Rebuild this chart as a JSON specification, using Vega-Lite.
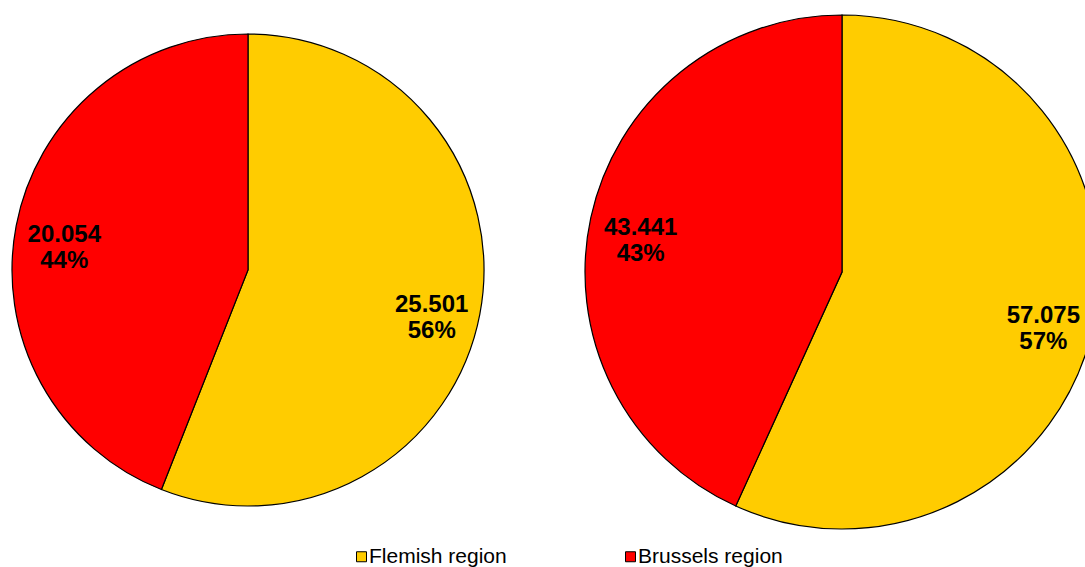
{
  "$schema": "https://vega.github.io/schema/vega-lite/v6.json",
  "width": 1085,
  "height": 567,
  "autosize": {"type": "fit", "contains": "padding"},
  "padding": 0,
  "background": "white",
  "config": {"view": {"stroke": null}},
  "data": {
    "values": [
      {"pie": "Pie 1", "region": "Flemish region", "value": 25501, "label": "25.501\n56%"},
      {"pie": "Pie 1", "region": "Brussels region", "value": 20054, "label": "20.054\n44%"},
      {"pie": "Pie 2", "region": "Flemish region", "value": 57075, "label": "57.075\n57%"},
      {"pie": "Pie 2", "region": "Brussels region", "value": 43441, "label": "43.441\n43%"}
    ]
  },
  "encoding": {
    "x": {"field": "pie", "type": "nominal", "scale": {"type": "point", "domain": ["Pie 1", "Pie 2"], "range": [248, 842], "padding": 0}, "axis": null},
    "y": {"field": "pie", "type": "nominal", "scale": {"type": "point", "domain": ["Pie 1", "Pie 2"], "range": [270, 272], "padding": 0}, "axis": null},
    "theta": {"field": "value", "type": "quantitative", "stack": "normalize"},
    "order": {"field": "region", "sort": "descending"},
    "color": {
      "field": "region",
      "type": "nominal",
      "scale": {"domain": ["Flemish region", "Brussels region"], "range": ["#FFCC00", "#FF0000"]},
      "legend": {
        "title": null,
        "orient": "none",
        "legendX": 351,
        "legendY": 546,
        "direction": "horizontal",
        "padding": 0,
        "symbolType": "square",
        "symbolSize": 100,
        "symbolStrokeColor": "black",
        "symbolStrokeWidth": 1,
        "symbolOpacity": 1,
        "labelFont": "Liberation Sans",
        "labelFontSize": 21,
        "labelColor": "black",
        "labelOffset": -3,
        "columnPadding": 113
      }
    }
  },
  "layer": [
    {
      "transform": [{"filter": "datum.pie === 'Pie 1'"}],
      "layer": [
        {"mark": {"type": "arc", "outerRadius": 236, "stroke": "black", "strokeWidth": 1.2}},
        {
          "mark": {"type": "text", "radius": 187, "font": "Liberation Sans", "fontWeight": "bold", "fontSize": 24, "lineHeight": 26, "lineBreak": "\n", "align": "center", "baseline": "middle"},
          "encoding": {"text": {"field": "label", "type": "nominal"}, "color": {"value": "black"}}
        }
      ]
    },
    {
      "transform": [{"filter": "datum.pie === 'Pie 2'"}],
      "layer": [
        {"mark": {"type": "arc", "outerRadius": 257, "stroke": "black", "strokeWidth": 1.2}},
        {
          "mark": {"type": "text", "radius": 206, "font": "Liberation Sans", "fontWeight": "bold", "fontSize": 24, "lineHeight": 26, "lineBreak": "\n", "align": "center", "baseline": "middle"},
          "encoding": {"text": {"field": "label", "type": "nominal"}, "color": {"value": "black"}}
        }
      ]
    }
  ]
}
